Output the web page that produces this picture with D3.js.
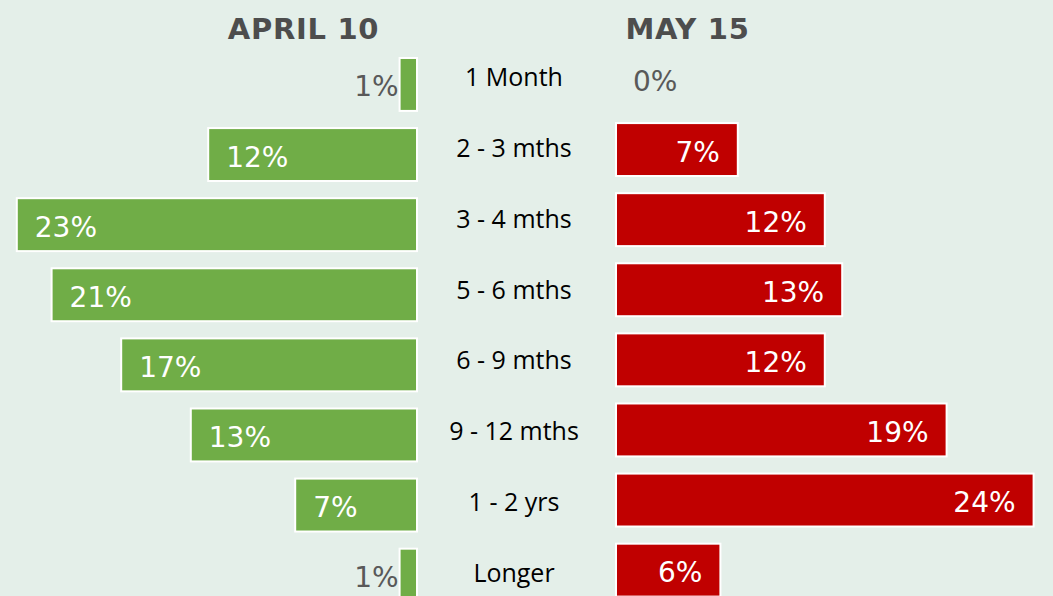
<!DOCTYPE html>
<html>
<head>
<meta charset="utf-8">
<script src="https://cdn.jsdelivr.net/npm/d3@7"></script>
<style>
  html, body { margin: 0; padding: 0; background: #e4efe9; }
  svg { display: block; }
</style>
</head>
<body>
<svg id="chart" width="1053" height="596"></svg>
<script>
const categories = ["1 Month", "2 - 3 mths", "3 - 4 mths", "5 - 6 mths", "6 - 9 mths", "9 - 12 mths", "1 - 2 yrs", "Longer"];
const april10 = [1, 12, 23, 21, 17, 13, 7, 1];
const may15 = [0, 7, 12, 13, 12, 19, 24, 6];
const seriesTitles = ["APRIL 10", "MAY 15"];

const W = 1053, H = 596;
const svg = d3.select("#chart");
svg.append("rect").attr("width", W).attr("height", H).attr("fill", "#e4efe9");

const n = categories.length;
const step = 70.1;
const yRed = d3.scaleBand().domain(categories)
  .range([44.4, 44.4 + n * step]).paddingInner(0.245).paddingOuter(0.1225);
const greenOffset = 5;
const yLabel = d3.scalePoint().domain(categories).range([77, 573]);

const xGreen = d3.scaleLinear().domain([0, 25]).range([417, 417 - 25 * 17.4]);
const xRed = d3.scaleLinear().domain([0, 25]).range([616, 616 + 25 * 17.4]);

const green = "#70ad47", red = "#c00000", grey = "#595959";
const pctFont = "'DejaVu Sans', Verdana, sans-serif";

// Titles
const titleX = [303.5, 687.5];
svg.append("g").selectAll("text").data(seriesTitles).join("text")
  .attr("x", (d, i) => titleX[i]).attr("y", 39).attr("text-anchor", "middle")
  .attr("font-family", "'DejaVu Sans', Verdana, sans-serif").attr("font-weight", "bold")
  .attr("font-size", 29).attr("letter-spacing", 0.7).attr("fill", "#4d4d4d")
  .text(d => d);

// Green bars (left)
const gData = categories.map((c, i) => ({c, v: april10[i]}));
svg.append("g").selectAll("rect").data(gData).join("rect")
  .attr("x", d => xGreen(d.v))
  .attr("y", d => yRed(d.c) + greenOffset)
  .attr("width", d => xGreen(0) - xGreen(d.v))
  .attr("height", yRed.bandwidth())
  .attr("fill", green).attr("stroke", "#ffffff").attr("stroke-width", 2);

svg.append("g").selectAll("text").data(gData).join("text")
  .attr("font-family", pctFont).attr("font-size", 28)
  .attr("x", d => d.v >= 3 ? xGreen(d.v) + 18 : xGreen(d.v) - 1)
  .attr("y", d => yRed(d.c) + greenOffset + yRed.bandwidth() / 2 + 12)
  .attr("text-anchor", d => d.v >= 3 ? "start" : "end")
  .attr("fill", d => d.v >= 3 ? "#ffffff" : grey)
  .text(d => d.v + "%");

// Red bars (right)
const rData = categories.map((c, i) => ({c, v: may15[i]}));
svg.append("g").selectAll("rect").data(rData.filter(d => d.v > 0)).join("rect")
  .attr("x", xRed(0))
  .attr("y", d => yRed(d.c))
  .attr("width", d => xRed(d.v) - xRed(0))
  .attr("height", yRed.bandwidth())
  .attr("fill", red).attr("stroke", "#ffffff").attr("stroke-width", 2);

svg.append("g").selectAll("text").data(rData).join("text")
  .attr("font-family", pctFont).attr("font-size", 28)
  .attr("x", d => d.v >= 3 ? xRed(d.v) - 18 : xRed(d.v) + 17)
  .attr("y", d => yRed(d.c) + yRed.bandwidth() / 2 + 12)
  .attr("text-anchor", d => d.v >= 3 ? "end" : "start")
  .attr("fill", d => d.v >= 3 ? "#ffffff" : grey)
  .text(d => d.v + "%");

// Category labels
svg.append("g").selectAll("text").data(categories).join("text")
  .attr("x", 514).attr("y", d => yLabel(d) + 9)
  .attr("text-anchor", "middle")
  .attr("font-family", "'Open Sans', sans-serif").attr("font-size", 25)
  .attr("fill", "#000000")
  .text(d => d);
</script>
</body>
</html>
